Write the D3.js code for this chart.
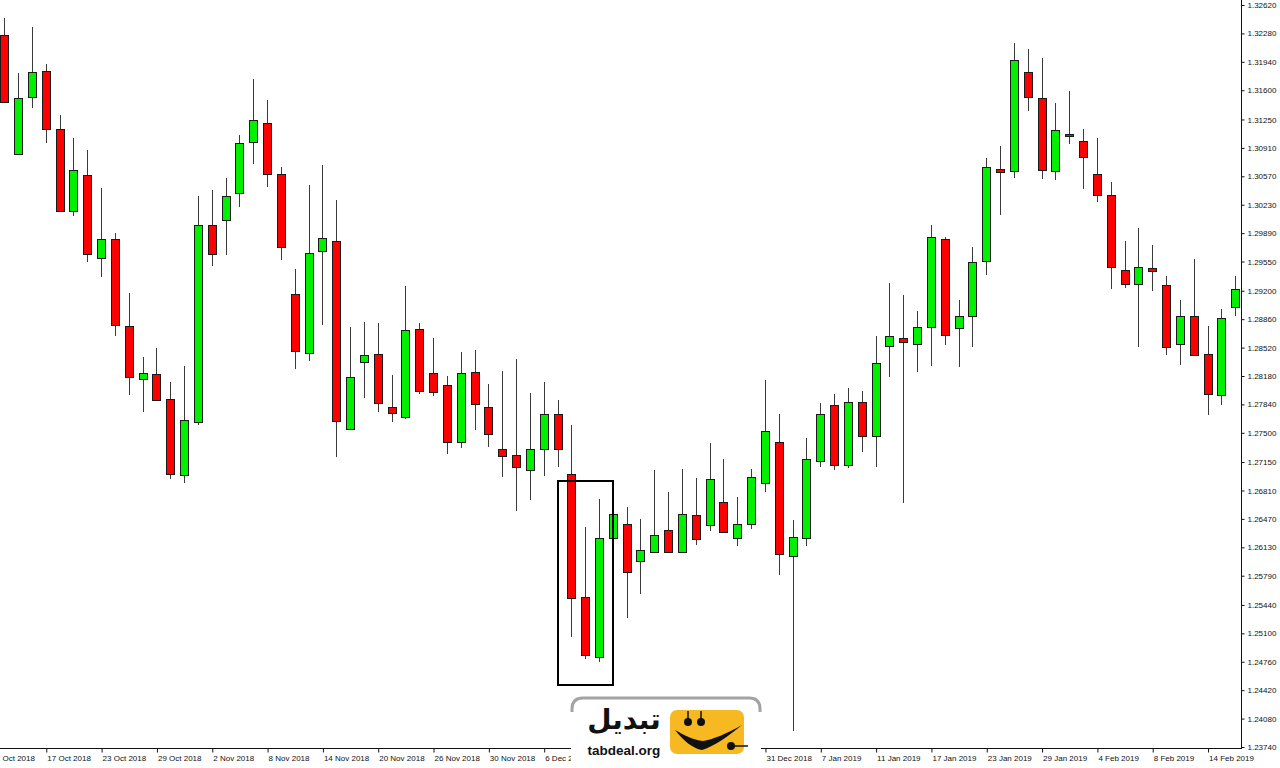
<!DOCTYPE html>
<html>
<head>
<meta charset="utf-8">
<script src="https://cdn.jsdelivr.net/npm/d3@7"></script>
<style>
  html, body { margin: 0; padding: 0; background: #fff; }
  svg { display: block; }
  .axis text { font-family: "Liberation Sans", Arial, sans-serif; font-size: 8px; fill: #111; }
  .axis line { stroke: #111; }
</style>
</head>
<body>
<svg id="chart" width="1280" height="768"></svg>
<script>
// daily candles, left to right
const opens = [
  1.32261, 1.30840, 1.31515, 1.31827, 1.31136, 1.30158, 1.30585, 1.29589, 1.29820, 1.28775,
  1.28140, 1.28204, 1.27905, 1.26991, 1.27633, 1.29987, 1.30043, 1.30374, 1.30977, 1.31204,
  1.30594, 1.29165, 1.28452, 1.29680, 1.29796, 1.27542, 1.28344, 1.28443, 1.27809, 1.27693,
  1.28742, 1.28216, 1.28069, 1.27386, 1.28224, 1.27812, 1.27303, 1.27231, 1.27055, 1.27303,
  1.27729, 1.27007, 1.25535, 1.24820, 1.26238, 1.26412, 1.25966, 1.26077, 1.26333, 1.26077,
  1.26516, 1.26393, 1.26672, 1.26238, 1.26405, 1.26899, 1.27386, 1.26029, 1.26238, 1.27159,
  1.27833, 1.27118, 1.27872, 1.27458, 1.28535, 1.28635, 1.28567, 1.28763, 1.29820, 1.28751,
  1.28898, 1.29553, 1.30661, 1.30637, 1.31818, 1.31507, 1.30633, 1.31080, 1.30989, 1.30597,
  1.30350, 1.29449, 1.29277, 1.29469, 1.29269, 1.28567, 1.28898, 1.28443, 1.27956, 1.29002
];
const highs = [
  1.32464, 1.31810, 1.32357, 1.31914, 1.31300, 1.31028, 1.30885, 1.30430, 1.29895, 1.29177,
  1.28404, 1.28515, 1.28112, 1.28300, 1.30338, 1.30406, 1.30550, 1.31064, 1.31734, 1.31483,
  1.30678, 1.29457, 1.30462, 1.30702, 1.30286, 1.28766, 1.28830, 1.28818, 1.28192, 1.29261,
  1.28818, 1.28631, 1.28183, 1.28467, 1.28487, 1.28084, 1.28243, 1.28383, 1.27973, 1.28105,
  1.27889, 1.27590, 1.26373, 1.26704, 1.26552, 1.26616, 1.26468, 1.27055, 1.26792, 1.27063,
  1.26963, 1.27378, 1.27183, 1.26735, 1.27063, 1.28132, 1.27721, 1.26460, 1.27434, 1.27853,
  1.27964, 1.28033, 1.28000, 1.28655, 1.29293, 1.29149, 1.28961, 1.29987, 1.29843, 1.29093,
  1.29724, 1.30793, 1.30929, 1.32162, 1.32097, 1.31986, 1.31447, 1.31591, 1.31136, 1.31025,
  1.30502, 1.29796, 1.29955, 1.29748, 1.29377, 1.29089, 1.29577, 1.28778, 1.28978, 1.29377
];
const lows = [
  1.31453, 1.30831, 1.31387, 1.30972, 1.30146, 1.30095, 1.29548, 1.29361, 1.28659, 1.27953,
  1.27753, 1.27887, 1.26947, 1.26903, 1.27590, 1.29496, 1.29628, 1.30199, 1.30714, 1.30438,
  1.29568, 1.28264, 1.28356, 1.28787, 1.27214, 1.27536, 1.27920, 1.27745, 1.27633, 1.27662,
  1.27964, 1.27941, 1.27243, 1.27315, 1.27537, 1.27330, 1.26968, 1.26568, 1.26700, 1.26980,
  1.27094, 1.25056, 1.24789, 1.24757, 1.26229, 1.25280, 1.25571, 1.26071, 1.26058, 1.26065,
  1.26161, 1.26328, 1.26301, 1.26145, 1.26345, 1.26788, 1.25802, 1.23931, 1.26145, 1.27087,
  1.27055, 1.27075, 1.27270, 1.27087, 1.28168, 1.26664, 1.28231, 1.28303, 1.28551, 1.28291,
  1.28531, 1.29392, 1.30103, 1.30550, 1.31348, 1.30541, 1.30529, 1.30953, 1.30414, 1.30266,
  1.29225, 1.29237, 1.28523, 1.29194, 1.28428, 1.28308, 1.28425, 1.27713, 1.27829, 1.28904
];
const closes = [
  1.31463, 1.31503, 1.31815, 1.31132, 1.30155, 1.30645, 1.29640, 1.29820, 1.28787, 1.28164,
  1.28212, 1.27893, 1.27003, 1.27650, 1.29983, 1.29636, 1.30338, 1.30968, 1.31247, 1.30594,
  1.29727, 1.28483, 1.29652, 1.29828, 1.27645, 1.28164, 1.28431, 1.27853, 1.27733, 1.28730,
  1.27997, 1.27985, 1.27394, 1.28212, 1.27841, 1.27482, 1.27222, 1.27087, 1.27303, 1.27729,
  1.27303, 1.25523, 1.24841, 1.26241, 1.26528, 1.25834, 1.26094, 1.26281, 1.26074, 1.26528,
  1.26225, 1.26944, 1.26316, 1.26405, 1.26971, 1.27522, 1.26046, 1.26250, 1.27190, 1.27729,
  1.27118, 1.27865, 1.27462, 1.28339, 1.28659, 1.28590, 1.28763, 1.29843, 1.28671, 1.28898,
  1.29544, 1.30681, 1.30625, 1.31962, 1.31515, 1.30645, 1.31124, 1.31049, 1.30801, 1.30346,
  1.29484, 1.29277, 1.29488, 1.29437, 1.28523, 1.28898, 1.28431, 1.27968, 1.28870, 1.29221
];

const priceTicks = [
  1.32620, 1.32280, 1.31940, 1.31600, 1.31250, 1.30910, 1.30570, 1.30230, 1.29890,
  1.29550, 1.29200, 1.28860, 1.28520, 1.28180, 1.27840, 1.27500, 1.27150, 1.26810,
  1.26470, 1.26130, 1.25790, 1.25440, 1.25100, 1.24760, 1.24420, 1.24080, 1.23740
];
const dateLabels = [
  "11 Oct 2018", "17 Oct 2018", "23 Oct 2018", "29 Oct 2018", "2 Nov 2018", "8 Nov 2018",
  "14 Nov 2018", "20 Nov 2018", "26 Nov 2018", "30 Nov 2018", "6 Dec 2018", "12 Dec 2018",
  "18 Dec 2018", "24 Dec 2018", "31 Dec 2018", "7 Jan 2019", "11 Jan 2019", "17 Jan 2019",
  "23 Jan 2019", "29 Jan 2019", "4 Feb 2019", "8 Feb 2019", "14 Feb 2019"
];
const dateLabelBars = [-1, 3, 7, 11, 15, 19, 23, 27, 31, 35, 39, 43, 47, 51, 55, 59, 63, 67, 71, 75, 79, 83, 87];

// highlighted pattern: from bar, to bar, top price, bottom price
const highlight = { from: 40, to: 44, top: 1.26923, bottom: 1.24482 };

const axisX = 1241, axisY = 748;

const x = d3.scaleLinear().domain([0, opens.length - 1]).range([4.3, 1235.2]);
const y = d3.scaleLinear().domain([1.2374, 1.3262]).range([747, 5]);

const svg = d3.select("#chart");
const candles = opens.map((o, i) => ({ i, o, h: highs[i], l: lows[i], c: closes[i] }));

const plot = svg.append("g");

plot.selectAll("line.wick")
  .data(candles)
  .join("line")
  .attr("class", "wick")
  .attr("x1", (d) => Math.round(x(d.i)) + 0.5)
  .attr("x2", (d) => Math.round(x(d.i)) + 0.5)
  .attr("y1", (d) => Math.round(y(d.h)))
  .attr("y2", (d) => Math.round(y(d.l)))
  .attr("stroke", "#3a3a3a")
  .attr("stroke-width", 1);

plot.selectAll("rect.body")
  .data(candles)
  .join("rect")
  .attr("class", "body")
  .attr("x", (d) => Math.round(x(d.i)) - 4 + 0.5)
  .attr("width", 8)
  .attr("y", (d) => Math.round(y(Math.max(d.o, d.c))) + 0.5)
  .attr("height", (d) => Math.max(1, Math.round(y(Math.min(d.o, d.c))) - Math.round(y(Math.max(d.o, d.c)))))
  .attr("fill", (d) => (d.c >= d.o ? "#00f000" : "#ff0000"))
  .attr("stroke", "#1a1a1a")
  .attr("stroke-width", 1);

// box around the three candles
svg.append("rect")
  .attr("x", Math.round(x(highlight.from)))
  .attr("y", Math.round(y(highlight.top)))
  .attr("width", Math.round(x(highlight.to)) - Math.round(x(highlight.from)))
  .attr("height", Math.round(y(highlight.bottom)) - Math.round(y(highlight.top)))
  .attr("fill", "none")
  .attr("stroke", "#000")
  .attr("stroke-width", 2);

// ---------- axes ----------
const yAxis = svg.append("g")
  .attr("class", "axis")
  .attr("transform", `translate(${axisX + 0.5},0)`)
  .call(d3.axisRight(y).tickValues(priceTicks).tickFormat(d3.format(".5f")).tickSize(3).tickPadding(3));
yAxis.select(".domain").remove();

const xAxis = svg.append("g")
  .attr("class", "axis")
  .attr("transform", `translate(0,${axisY + 0.5})`)
  .call(d3.axisBottom(x).tickValues(dateLabelBars).tickFormat((d, i) => dateLabels[i]).tickSize(4).tickPadding(3));
xAxis.select(".domain").remove();
xAxis.selectAll(".tick line").attr("transform", "translate(0.5,0)");
xAxis.selectAll(".tick text").attr("text-anchor", "start").attr("dx", 1);

svg.append("line")
  .attr("x1", axisX + 0.5).attr("x2", axisX + 0.5)
  .attr("y1", 0).attr("y2", axisY + 1)
  .attr("stroke", "#111");
svg.append("line")
  .attr("x1", 0).attr("x2", axisX + 1)
  .attr("y1", axisY + 0.5).attr("y2", axisY + 0.5)
  .attr("stroke", "#111");

// ---------- watermark logo ----------
const logo = svg.append("g");
logo.append("path")
  .attr("d", "M571,768 L571,709 Q571,697 583,697 L749,697 Q761,697 761,709 L761,768 Z")
  .attr("fill", "#fff");
logo.append("path")
  .attr("d", "M572,712 L572,709 Q572,698 583,698 L749,698 Q760,698 760,709 L760,712")
  .attr("fill", "none")
  .attr("stroke", "#a3a3a3")
  .attr("stroke-width", 3);

logo.append("text")
  .attr("x", 624)
  .attr("y", 729)
  .attr("text-anchor", "middle")
  .attr("font-family", "'DejaVu Sans', sans-serif")
  .attr("font-weight", "bold")
  .attr("font-size", 28)
  .attr("fill", "#111")
  .text("تبدیل");

logo.append("text")
  .attr("x", 624)
  .attr("y", 755)
  .attr("text-anchor", "middle")
  .attr("font-family", "'Liberation Sans', Arial, sans-serif")
  .attr("font-weight", "bold")
  .attr("font-size", 13.5)
  .attr("fill", "#111")
  .text("tabdeal.org");

logo.append("rect")
  .attr("x", 670).attr("y", 710)
  .attr("width", 74).attr("height", 44)
  .attr("rx", 7)
  .attr("fill", "#f6b921");

logo.selectAll("line.stem")
  .data([688, 701])
  .join("line")
  .attr("x1", (d) => d).attr("x2", (d) => d)
  .attr("y1", 711).attr("y2", 721)
  .attr("stroke", "#111")
  .attr("stroke-width", 1.5);
logo.selectAll("circle.eye")
  .data([688, 701])
  .join("circle")
  .attr("cx", (d) => d).attr("cy", 722)
  .attr("r", 4)
  .attr("fill", "#111");

logo.append("path")
  .attr("d", "M675,730 C683,740 693,749 702,750 C715,746 730,735 742,725 C728,733 712,740 703,741 C693,740 684,735 675,730 Z")
  .attr("fill", "#111");

logo.append("line")
  .attr("x1", 731).attr("x2", 748)
  .attr("y1", 746).attr("y2", 746)
  .attr("stroke", "#111")
  .attr("stroke-width", 1.5);
logo.append("circle")
  .attr("cx", 731).attr("cy", 746)
  .attr("r", 4)
  .attr("fill", "#111");
</script>
</body>
</html>
